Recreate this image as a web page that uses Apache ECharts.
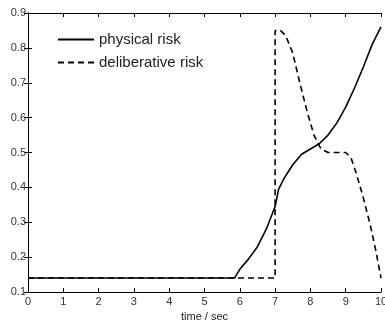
<!DOCTYPE html>
<html>
<head>
<meta charset="utf-8">
<script src="https://cdn.jsdelivr.net/npm/echarts@6/dist/echarts.min.js"></script>
<style>
  html, body { margin: 0; padding: 0; background: #fff; }
  #main { width: 385px; height: 320px; }
</style>
</head>
<body>
<div id="main"></div>
<script>
// physical risk curve
const physT = [0, 5.85, 6, 6.25, 6.5, 6.75, 7, 7.1, 7.25, 7.5, 7.75, 8, 8.25, 8.5, 8.75, 9, 9.25, 9.5, 9.75, 10]
const physV = [0.14, 0.14, 0.165, 0.195, 0.23, 0.28, 0.345, 0.395, 0.425, 0.465, 0.495, 0.51, 0.525, 0.55, 0.585, 0.63, 0.685, 0.745, 0.81, 0.86]

// deliberative risk curve
const delibT = [0, 7, 7, 7.15, 7.3, 7.5, 7.7, 7.9, 8.1, 8.3, 8.5, 9, 9.15, 9.3, 9.5, 9.7, 9.85, 10]
const delibV = [0.14, 0.14, 0.85, 0.85, 0.835, 0.785, 0.70, 0.62, 0.55, 0.51, 0.50, 0.50, 0.485, 0.44, 0.37, 0.29, 0.22, 0.14]

const seriesNames = ['physical risk', 'deliberative risk']
const xLabel = 'time / sec'

let chart = echarts.init(document.getElementById('main'))

const font = 'Liberation Sans, Arial, sans-serif'
const tick = { show: true, inside: true, length: 4, lineStyle: { color: '#000' } }

let options = {
  animation: false,
  grid: { left: 28, right: 4, top: 13, bottom: 28, outerBoundsMode: 'none', containLabel: false },
  legend: {
    left: 52,
    top: 27,
    orient: 'vertical',
    itemWidth: 36,
    itemHeight: 14,
    itemGap: 8,
    itemStyle: { opacity: 0 },
    textStyle: { fontFamily: font, fontSize: 15, color: '#222' },
    data: seriesNames
  },
  xAxis: [{
    type: 'value',
    min: 0, max: 10, interval: 1,
    name: xLabel,
    nameLocation: 'middle',
    nameGap: 18,
    nameTextStyle: { fontFamily: font, fontSize: 11, color: '#222' },
    axisLine: { lineStyle: { color: '#000', width: 1 } },
    axisTick: tick,
    axisLabel: { fontFamily: font, fontSize: 11, color: '#333', margin: 4 },
    splitLine: { show: false }
  }, {
    type: 'value', position: 'top',
    min: 0, max: 10, interval: 1,
    axisLine: { show: true, lineStyle: { color: '#000', width: 1 } },
    axisTick: tick,
    axisLabel: { show: false },
    splitLine: { show: false }
  }],
  yAxis: [{
    type: 'value',
    min: 0.1, max: 0.9, interval: 0.1,
    axisLine: { show: true, lineStyle: { color: '#000', width: 1 } },
    axisTick: tick,
    axisLabel: {
      fontFamily: font, fontSize: 11, color: '#333', margin: 2,
      formatter: v => v.toFixed(1)
    },
    splitLine: { show: false }
  }, {
    type: 'value', position: 'right',
    min: 0.1, max: 0.9, interval: 0.1,
    axisLine: { show: true, lineStyle: { color: '#000', width: 1 } },
    axisTick: tick,
    axisLabel: { show: false },
    splitLine: { show: false }
  }],
  series: [{
    name: seriesNames[0],
    type: 'line',
    data: physT.map((t, i) => [t, physV[i]]),
    symbol: 'none',
    lineStyle: { color: '#000', width: 1.6 },
    itemStyle: { color: '#000' }
  }, {
    name: seriesNames[1],
    type: 'line',
    data: delibT.map((t, i) => [t, delibV[i]]),
    symbol: 'none',
    lineStyle: { color: '#000', width: 1.6, type: [6, 4] },
    itemStyle: { color: '#000' }
  }]
}
options && chart.setOption(options)
</script>
</body>
</html>
